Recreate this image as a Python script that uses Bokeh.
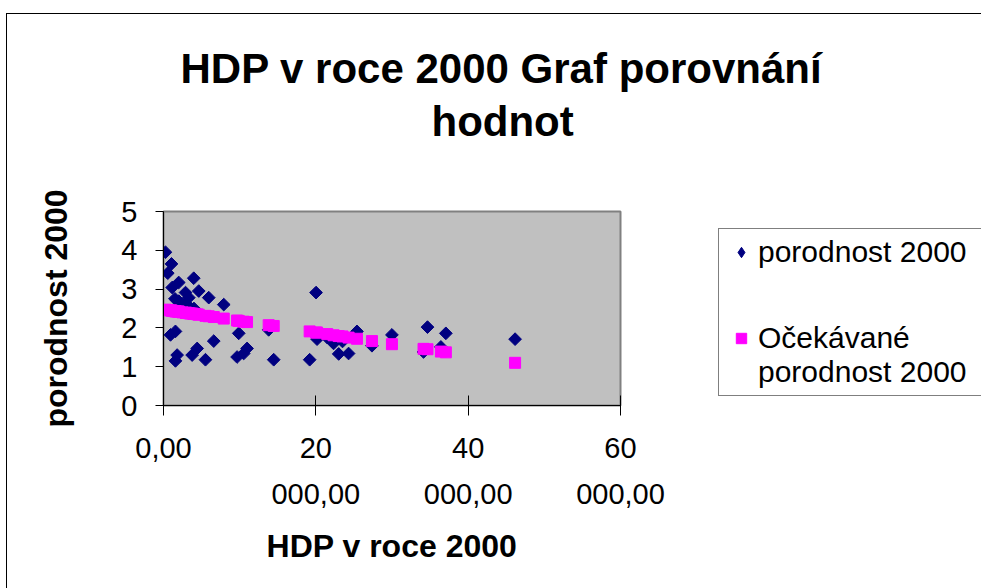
import math
from bokeh.plotting import figure
from bokeh.models import (ColumnDataSource, Range1d, FixedTicker, Legend,
                          LegendItem, Title)
from bokeh.embed import file_html
from bokeh.resources import INLINE

# ---- data ----
hdp = [260, 560, 1050, 1140, 2000, 2000, 2890, 3320, 3970, 4630, 5940, 7910,
       920, 1570, 1790, 1570, 3760, 4420, 5510, 6600, 9660, 9880, 10530, 10970,
       13810, 14470, 19190, 20030, 20160, 22330, 23000, 24300, 25400, 27370,
       29990, 34660, 34140, 37070, 36420, 46160,
       2500, 3000, 4000, 1500, 3500, 23500, 21500]
porodnost = [3.95, 3.41, 3.65, 3.04, 3.17, 2.69, 2.91, 2.78, 3.28, 2.95, 2.78, 2.60,
             1.82, 1.91, 1.30, 1.15, 1.30, 1.47, 1.18, 1.66, 1.25, 1.86, 1.34, 1.47,
             1.95, 1.18, 1.18, 2.91, 1.71, 1.60, 1.33, 1.34, 1.91, 1.54,
             1.82, 2.02, 1.38, 1.86, 1.51, 1.71,
             2.55, 2.62, 2.50, 2.75, 2.45, 1.65, 1.75]
ocekavane = [2.47, 2.46, 2.45, 2.44, 2.42, 2.42, 2.39, 2.38, 2.36, 2.34, 2.30, 2.24,
             2.45, 2.43, 2.42, 2.43, 2.37, 2.35, 2.31, 2.28, 2.19, 2.18, 2.16, 2.15,
             2.07, 2.05, 1.91, 1.88, 1.88, 1.81, 1.79, 1.75, 1.72, 1.66,
             1.58, 1.45, 1.46, 1.37, 1.39, 1.10,
             2.40, 2.39, 2.36, 2.43, 2.37, 1.78, 1.84]

x_ticks = [0, 20000, 40000, 60000]
x_tick_labels = ["0,00", "20\n000,00", "40\n000,00", "60\n000,00"]
y_ticks = [0, 1, 2, 3, 4, 5]

title_line1 = "HDP v roce 2000 Graf porovnání"
title_line2 = "hodnot"
x_title = "HDP v roce 2000"
y_title = "porodnost 2000"
series1 = "porodnost 2000"
series2_line1 = "Očekávané"
series2_line2 = "porodnost 2000"

FONT = "Liberation Sans"
NAVY = "#000080"
PINK = "#FF00FF"

src = ColumnDataSource(dict(hdp=hdp, porodnost=porodnost, ocekavane=ocekavane))

# canvas placed at page (7, 14) by the css margin + border below
p = figure(frame_width=457, frame_height=194,
           min_border_left=156, min_border_right=974 - 156 - 457,
           min_border_top=197, min_border_bottom=574 - 197 - 194,
           x_range=Range1d(0, 60000), y_range=Range1d(0, 5),
           output_backend="svg", toolbar_location=None)
p.styles = {"margin-left": "6px", "margin-top": "13px",
            "border-left": "1px solid black", "border-top": "1px solid black"}

p.background_fill_color = "#C0C0C0"
p.border_fill_color = "white"
p.outline_line_color = "#808080"
p.outline_line_width = 2
p.xgrid.visible = False
p.ygrid.visible = False

# x axis
xa = p.xaxis[0]
xa.ticker = FixedTicker(ticks=x_ticks)
xa.major_label_overrides = {t: l for t, l in zip(x_ticks, x_tick_labels)}
xa.axis_line_color = "black"
xa.major_tick_line_color = "black"
xa.major_tick_in = 10
xa.major_tick_out = 10
xa.minor_tick_line_color = None
xa.major_label_text_font = FONT
xa.major_label_text_font_size = "29px"
xa.major_label_text_line_height = 1.45
xa.major_label_text_color = "black"
xa.major_label_standoff = 16
xa.axis_label = x_title
xa.axis_label_text_font = FONT
xa.axis_label_text_font_size = "32px"
xa.axis_label_text_font_style = "bold"
xa.axis_label_text_color = "black"
xa.axis_label_standoff = 15

# y axis
ya = p.yaxis[0]
ya.ticker = FixedTicker(ticks=y_ticks)
ya.axis_line_color = "black"
ya.major_tick_line_color = "black"
ya.major_tick_in = 0
ya.major_tick_out = 8
ya.minor_tick_line_color = None
ya.major_label_text_font = FONT
ya.major_label_text_font_size = "29px"
ya.major_label_text_color = "black"
ya.major_label_standoff = 18
ya.axis_label = y_title
ya.axis_label_text_font = FONT
ya.axis_label_text_font_size = "32px"
ya.axis_label_text_font_style = "bold"
ya.axis_label_text_color = "black"
ya.axis_label_standoff = 44

r1 = p.scatter(x="hdp", y="porodnost", source=src, marker="square",
               angle=math.pi / 4, size=9, fill_color=NAVY, line_color=NAVY)
r2 = p.scatter(x="hdp", y="ocekavane", source=src, marker="square",
               size=11, fill_color=PINK, line_color=PINK)

# legend keys (hidden in the plot itself, only drawn in the legend)
key_diamond = p.scatter(x="hdp", y="porodnost", source=src, marker="diamond",
                        size=12, fill_color=NAVY, line_color=NAVY, visible=False)
key_square = p.scatter(x="hdp", y="ocekavane", source=src, marker="square",
                       size=10, fill_color=PINK, line_color=PINK, visible=False)
key_blank = p.scatter(x="hdp", y="ocekavane", source=src, marker="square",
                      size=1, fill_alpha=0, line_alpha=0, visible=False)

legend = Legend(items=[LegendItem(label=series1, renderers=[key_diamond]),
                       LegendItem(label=" \n ", renderers=[key_blank]),
                       LegendItem(label=" \n ", renderers=[key_blank]),
                       LegendItem(label=series2_line1, renderers=[key_square]),
                       LegendItem(label=series2_line2, renderers=[key_blank])],
                location=(98, 9))
legend.label_text_font = FONT
legend.label_text_font_size = "30px"
legend.label_text_line_height = 1.0
legend.label_text_color = "black"
legend.border_line_color = "black"
legend.border_line_width = 1
legend.background_fill_color = "white"
legend.background_fill_alpha = 1
legend.padding = 6
legend.spacing = -6
legend.glyph_width = 32
legend.glyph_height = 26
legend.label_standoff = 1
legend.label_width = 260
legend.margin = 0
p.add_layout(legend, "right")

# titles: p.title is outermost (line 1), the added one sits nearest the frame (line 2)
p.title.text = title_line1
p.title.align = "left"
p.title.offset = 17
p.title.standoff = -126
p.title.text_font = FONT
p.title.text_font_size = "42px"
p.title.text_font_style = "bold"
p.title.text_color = "black"
t2 = Title(text=title_line2, align="left", offset=268, standoff=134,
           text_font=FONT, text_font_size="42px", text_font_style="bold",
           text_color="black")
p.add_layout(t2, "above")

open("out.html", "w").write(file_html(p, INLINE))
